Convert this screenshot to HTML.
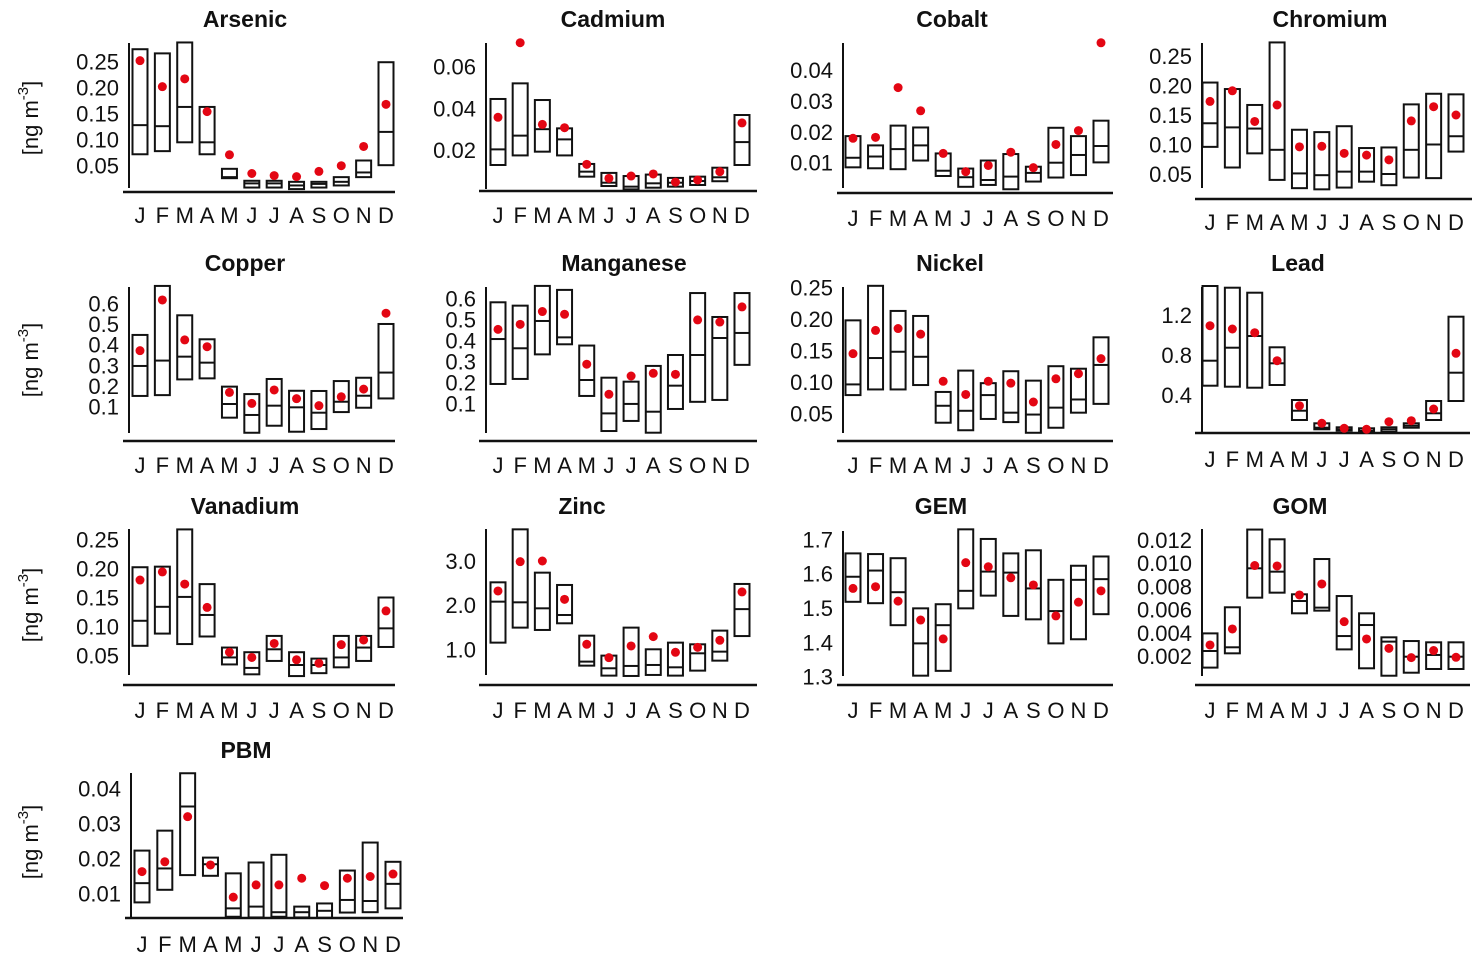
<!DOCTYPE html>
<html><head><meta charset="utf-8"><style>
html,body{margin:0;padding:0;background:#fff;}
svg{display:block;font-family:"Liberation Sans",Arial,sans-serif;}
</style></head><body>
<svg id="chart" width="1472" height="960" viewBox="0 0 1472 960" xmlns="http://www.w3.org/2000/svg">
<g font-size="22" fill="#111">
<text transform="translate(38,118) rotate(-90)" text-anchor="middle">[ng m<tspan dy="-10" font-size="15">-3</tspan><tspan dy="10">]</tspan></text>
<text transform="translate(38,360) rotate(-90)" text-anchor="middle">[ng m<tspan dy="-10" font-size="15">-3</tspan><tspan dy="10">]</tspan></text>
<text transform="translate(38,605) rotate(-90)" text-anchor="middle">[ng m<tspan dy="-10" font-size="15">-3</tspan><tspan dy="10">]</tspan></text>
<text transform="translate(38,842) rotate(-90)" text-anchor="middle">[ng m<tspan dy="-10" font-size="15">-3</tspan><tspan dy="10">]</tspan></text>
</g>
</svg>
<script>
const months = ["J","F","M","A","M","J","J","A","S","O","N","D"];

const arsenicHi = [0.274,0.266,0.287,0.163,0.044,0.021,0.021,0.019,0.019,0.028,0.060,0.249];
const arsenicMed = [0.128,0.126,0.163,0.095,0.028,0.016,0.016,0.012,0.015,0.019,0.037,0.115];
const arsenicLo = [0.072,0.078,0.095,0.072,0.026,0.008,0.008,0.005,0.008,0.012,0.028,0.051];
const arsenicMean = [0.252,0.202,0.217,0.154,0.071,0.035,0.031,0.029,0.039,0.050,0.087,0.168];
const arsenicTicks = [0.25,0.20,0.15,0.10,0.05];
const arsenicTickLabels = ["0.25","0.20","0.15","0.10","0.05"];

const cadmiumHi = [0.0445,0.052,0.044,0.0304,0.0133,0.0090,0.0075,0.0082,0.0066,0.0072,0.0115,0.0368];
const cadmiumMed = [0.0203,0.0269,0.030,0.0251,0.0096,0.0043,0.0024,0.0040,0.0043,0.0051,0.0069,0.0238];
const cadmiumLo = [0.0128,0.0174,0.0192,0.0174,0.0072,0.0027,0.0011,0.0019,0.0024,0.0032,0.0050,0.0128];
const cadmiumMean = [0.0357,0.0715,0.0323,0.0307,0.0131,0.0064,0.0075,0.0085,0.0046,0.0056,0.0096,0.033];
const cadmiumTicks = [0.06,0.04,0.02];
const cadmiumTickLabels = ["0.06","0.04","0.02"];

const cobaltHi = [0.0186,0.0156,0.0220,0.0214,0.0130,0.0081,0.0107,0.0128,0.0087,0.0213,0.0186,0.0236];
const cobaltMed = [0.0116,0.0120,0.0144,0.0156,0.0074,0.0053,0.0044,0.0055,0.0067,0.0100,0.0125,0.0154];
const cobaltLo = [0.0085,0.0082,0.0079,0.0107,0.0057,0.0022,0.0028,0.0014,0.0039,0.0052,0.0060,0.0101];
const cobaltMean = [0.0179,0.0182,0.0343,0.0268,0.0130,0.0071,0.0091,0.0134,0.0084,0.0159,0.0204,0.0488];
const cobaltTicks = [0.04,0.03,0.02,0.01];
const cobaltTickLabels = ["0.04","0.03","0.02","0.01"];

const chromiumHi = [0.205,0.194,0.167,0.273,0.125,0.121,0.131,0.094,0.095,0.168,0.186,0.185];
const chromiumMed = [0.136,0.129,0.127,0.091,0.051,0.048,0.054,0.054,0.050,0.091,0.100,0.114];
const chromiumLo = [0.096,0.061,0.085,0.040,0.026,0.024,0.027,0.037,0.031,0.044,0.043,0.088];
const chromiumMean = [0.173,0.191,0.139,0.167,0.096,0.097,0.085,0.082,0.074,0.140,0.164,0.150];
const chromiumTicks = [0.25,0.20,0.15,0.10,0.05];
const chromiumTickLabels = ["0.25","0.20","0.15","0.10","0.05"];

const copperHi = [0.447,0.684,0.542,0.426,0.197,0.161,0.234,0.177,0.176,0.224,0.240,0.500];
const copperMed = [0.297,0.323,0.342,0.313,0.113,0.060,0.105,0.097,0.071,0.124,0.153,0.265];
const copperLo = [0.152,0.156,0.232,0.237,0.047,-0.026,0.008,-0.021,-0.008,0.074,0.095,0.140];
const copperMean = [0.371,0.616,0.423,0.390,0.169,0.116,0.181,0.139,0.105,0.148,0.185,0.552];
const copperTicks = [0.6,0.5,0.4,0.3,0.2,0.1];
const copperTickLabels = ["0.6","0.5","0.4","0.3","0.2","0.1"];

const manganeseHi = [0.581,0.565,0.659,0.640,0.375,0.222,0.203,0.278,0.330,0.625,0.511,0.625];
const manganeseMed = [0.406,0.362,0.492,0.414,0.211,0.052,0.097,0.060,0.184,0.330,0.411,0.435];
const manganeseLo = [0.192,0.216,0.333,0.381,0.135,-0.032,0.016,-0.040,0.073,0.107,0.116,0.283];
const manganeseMean = [0.452,0.476,0.537,0.524,0.286,0.143,0.230,0.243,0.238,0.497,0.487,0.559];
const manganeseTicks = [0.6,0.5,0.4,0.3,0.2,0.1];
const manganeseTickLabels = ["0.6","0.5","0.4","0.3","0.2","0.1"];

const nickelHi = [0.198,0.253,0.213,0.205,0.084,0.118,0.098,0.117,0.102,0.125,0.121,0.171];
const nickelMed = [0.096,0.138,0.148,0.140,0.062,0.054,0.079,0.051,0.048,0.059,0.072,0.127];
const nickelLo = [0.079,0.088,0.088,0.095,0.035,0.023,0.041,0.036,0.019,0.027,0.051,0.065];
const nickelMean = [0.145,0.182,0.185,0.176,0.101,0.080,0.101,0.098,0.068,0.105,0.113,0.137];
const nickelTicks = [0.25,0.20,0.15,0.10,0.05];
const nickelTickLabels = ["0.25","0.20","0.15","0.10","0.05"];

const leadHi = [1.49,1.473,1.423,0.877,0.35,0.117,0.077,0.067,0.077,0.117,0.34,1.183];
const leadMed = [0.743,0.873,0.99,0.717,0.243,0.073,0.057,0.043,0.057,0.093,0.217,0.623];
const leadLo = [0.493,0.483,0.473,0.5,0.15,0.057,0.043,0.027,0.033,0.073,0.15,0.34];
const leadMean = [1.093,1.06,1.023,0.743,0.293,0.117,0.067,0.057,0.133,0.143,0.26,0.817];
const leadTicks = [1.2,0.8,0.4];
const leadTickLabels = ["1.2","0.8","0.4"];

const vanadiumHi = [0.202,0.203,0.267,0.173,0.064,0.056,0.084,0.056,0.045,0.084,0.084,0.150];
const vanadiumMed = [0.110,0.134,0.151,0.120,0.047,0.029,0.061,0.034,0.034,0.047,0.064,0.097];
const vanadiumLo = [0.067,0.088,0.070,0.083,0.035,0.018,0.041,0.015,0.020,0.030,0.041,0.065];
const vanadiumMean = [0.180,0.194,0.173,0.133,0.056,0.047,0.071,0.043,0.037,0.069,0.077,0.127];
const vanadiumTicks = [0.25,0.20,0.15,0.10,0.05];
const vanadiumTickLabels = ["0.25","0.20","0.15","0.10","0.05"];

const zincHi = [2.517,3.717,2.736,2.457,1.309,0.857,1.491,1.0,1.151,1.113,1.423,2.48];
const zincMed = [2.079,2.064,1.928,1.777,0.721,0.570,0.623,0.645,0.592,0.909,0.947,1.91];
const zincLo = [1.151,1.491,1.438,1.589,0.630,0.404,0.396,0.419,0.404,0.517,0.743,1.30];
const zincMean = [2.321,2.985,3.0,2.132,1.113,0.811,1.075,1.287,0.932,1.045,1.204,2.30];
const zincTicks = [3.0,2.0,1.0];
const zincTickLabels = ["3.0","2.0","1.0"];

const gemHi = [1.659,1.657,1.645,1.499,1.511,1.729,1.701,1.659,1.668,1.582,1.623,1.650];
const gemMed = [1.591,1.609,1.546,1.397,1.450,1.550,1.606,1.603,1.557,1.491,1.582,1.584];
const gemLo = [1.518,1.514,1.450,1.303,1.317,1.499,1.536,1.477,1.467,1.397,1.409,1.482];
const gemMean = [1.557,1.562,1.520,1.465,1.410,1.632,1.620,1.588,1.567,1.477,1.517,1.550];
const gemTicks = [1.7,1.6,1.5,1.4,1.3];
const gemTickLabels = ["1.7","1.6","1.5","1.4","1.3"];

const gomHi = [0.00395,0.0062,0.0129,0.01206,0.00732,0.01036,0.00717,0.00568,0.00361,0.00329,0.00318,0.00318];
const gomMed = [0.00243,0.00275,0.00956,0.00927,0.00674,0.00617,0.00372,0.00467,0.00324,0.00194,0.00209,0.00194];
const gomLo = [0.0010,0.00223,0.00703,0.00746,0.00568,0.00591,0.00257,0.00094,0.0003,0.00056,0.00088,0.00088];
const gomMean = [0.00295,0.00433,0.00980,0.00976,0.00726,0.00821,0.00496,0.00347,0.00266,0.00186,0.00247,0.00189];
const gomTicks = [0.012,0.010,0.008,0.006,0.004,0.002];
const gomTickLabels = ["0.012","0.010","0.008","0.006","0.004","0.002"];

const pbmHi = [0.0222,0.0279,0.0443,0.0202,0.0157,0.0188,0.0210,0.0062,0.0071,0.0165,0.0245,0.0190];
const pbmMed = [0.0129,0.0171,0.0348,0.0183,0.0057,0.0062,0.0046,0.0046,0.0050,0.0081,0.0078,0.0127];
const pbmLo = [0.0074,0.0110,0.0152,0.0150,0.0033,0.0031,0.0033,0.0031,0.0030,0.0045,0.0046,0.0057];
const pbmMean = [0.0162,0.0190,0.0319,0.0181,0.0089,0.0124,0.0124,0.0143,0.0122,0.0143,0.0148,0.0155];
const pbmTicks = [0.04,0.03,0.02,0.01];
const pbmTickLabels = ["0.04","0.03","0.02","0.01"];

// layout (pixel geometry, not data)
const panels = [
 {key:"arsenic",title:"Arsenic",hi:arsenicHi,med:arsenicMed,lo:arsenicLo,mean:arsenicMean,ticks:arsenicTicks,tl:arsenicTickLabels,
  ax:129,top:43,bot:188,baseY:192,bx0:123,bx1:395,jx:140,dx:386,v1:0.25,y1:61.7,v2:0.05,y2:165.7,tx:245,ty:19,my:215},
 {key:"cadmium",title:"Cadmium",hi:cadmiumHi,med:cadmiumMed,lo:cadmiumLo,mean:cadmiumMean,ticks:cadmiumTicks,tl:cadmiumTickLabels,
  ax:486,top:43,bot:189,baseY:191,bx0:479,bx1:757,jx:498,dx:742,v1:0.06,y1:66.7,v2:0.02,y2:150,tx:613,ty:19,my:215},
 {key:"cobalt",title:"Cobalt",hi:cobaltHi,med:cobaltMed,lo:cobaltLo,mean:cobaltMean,ticks:cobaltTicks,tl:cobaltTickLabels,
  ax:843,top:43,bot:188,baseY:193,bx0:837,bx1:1113,jx:853,dx:1101,v1:0.04,y1:70,v2:0.01,y2:162.7,tx:952,ty:19,my:218},
 {key:"chromium",title:"Chromium",hi:chromiumHi,med:chromiumMed,lo:chromiumLo,mean:chromiumMean,ticks:chromiumTicks,tl:chromiumTickLabels,
  ax:1202,top:43,bot:188,baseY:199,bx0:1195,bx1:1473,jx:1210,dx:1456,v1:0.25,y1:56,v2:0.05,y2:174,tx:1330,ty:19,my:222},
 {key:"copper",title:"Copper",hi:copperHi,med:copperMed,lo:copperLo,mean:copperMean,ticks:copperTicks,tl:copperTickLabels,
  ax:129,top:287,bot:433,baseY:441,bx0:123,bx1:395,jx:140,dx:386,v1:0.6,y1:303.3,v2:0.1,y2:406.7,tx:245,ty:263,my:465},
 {key:"manganese",title:"Manganese",hi:manganeseHi,med:manganeseMed,lo:manganeseLo,mean:manganeseMean,ticks:manganeseTicks,tl:manganeseTickLabels,
  ax:486,top:287,bot:433,baseY:441,bx0:479,bx1:757,jx:498,dx:742,v1:0.6,y1:298.3,v2:0.1,y2:403.3,tx:624,ty:263,my:465},
 {key:"nickel",title:"Nickel",hi:nickelHi,med:nickelMed,lo:nickelLo,mean:nickelMean,ticks:nickelTicks,tl:nickelTickLabels,
  ax:843,top:287,bot:433,baseY:441,bx0:837,bx1:1113,jx:853,dx:1101,v1:0.25,y1:287.7,v2:0.05,y2:413.3,tx:950,ty:263,my:465},
 {key:"lead",title:"Lead",hi:leadHi,med:leadMed,lo:leadLo,mean:leadMean,ticks:leadTicks,tl:leadTickLabels,
  ax:1202,top:287,bot:433,baseY:433,bx0:1195,bx1:1470,jx:1210,dx:1456,v1:1.2,y1:315,v2:0.4,y2:395,tx:1298,ty:263,my:459},
 {key:"vanadium",title:"Vanadium",hi:vanadiumHi,med:vanadiumMed,lo:vanadiumLo,mean:vanadiumMean,ticks:vanadiumTicks,tl:vanadiumTickLabels,
  ax:129,top:529,bot:675,baseY:685,bx0:123,bx1:395,jx:140,dx:386,v1:0.25,y1:539.3,v2:0.05,y2:655.7,tx:245,ty:506,my:710},
 {key:"zinc",title:"Zinc",hi:zincHi,med:zincMed,lo:zincLo,mean:zincMean,ticks:zincTicks,tl:zincTickLabels,
  ax:486,top:529,bot:675,baseY:685,bx0:479,bx1:757,jx:498,dx:742,v1:3.0,y1:561,v2:1.0,y2:649.3,tx:582,ty:506,my:710},
 {key:"gem",title:"GEM",hi:gemHi,med:gemMed,lo:gemLo,mean:gemMean,ticks:gemTicks,tl:gemTickLabels,
  ax:843,top:531,bot:676,baseY:685,bx0:837,bx1:1113,jx:853,dx:1101,v1:1.7,y1:539.3,v2:1.3,y2:676.7,tx:941,ty:506,my:710},
 {key:"gom",title:"GOM",hi:gomHi,med:gomMed,lo:gomLo,mean:gomMean,ticks:gomTicks,tl:gomTickLabels,
  ax:1202,top:529,bot:676,baseY:685,bx0:1195,bx1:1470,jx:1210,dx:1456,v1:0.012,y1:540,v2:0.002,y2:656,tx:1300,ty:506,my:710},
 {key:"pbm",title:"PBM",hi:pbmHi,med:pbmMed,lo:pbmLo,mean:pbmMean,ticks:pbmTicks,tl:pbmTickLabels,
  ax:131,top:773,bot:918,baseY:918,bx0:125,bx1:403,jx:142,dx:393,v1:0.04,y1:788.3,v2:0.01,y2:893.3,tx:246,ty:750,my:944}
];

const NS = "http://www.w3.org/2000/svg";
const svg = document.getElementById("chart");
function mk(tag, attrs, parent){
  const e = document.createElementNS(NS, tag);
  for (const k in attrs) e.setAttribute(k, attrs[k]);
  parent.appendChild(e);
  return e;
}
panels.forEach(p => {
  const yScale = v => p.y1 + (v - p.v1) * (p.y2 - p.y1) / (p.v2 - p.v1);
  const xScale = i => p.jx + i * (p.dx - p.jx) / 11;
  const g = mk("g", {}, svg);
  
  

  const t = mk("text", {x:p.tx, y:p.ty+8, "text-anchor":"middle", "font-size":"23", "font-weight":"bold", fill:"#111"}, g);
  
  
  t.textContent = p.title;

  const ya = mk("line", {x1:p.ax, x2:p.ax, y1:p.top, y2:p.bot, stroke:"#111", "stroke-width":"2"}, g);
  
  

  const xa = mk("line", {x1:p.bx0, x2:p.bx1, y1:p.baseY, y2:p.baseY, stroke:"#111", "stroke-width":"2.5"}, g);
  
  

  p.ticks.forEach((v, i) => {
    const tt = mk("text", {x:p.ax - 10, y:yScale(v) + 8, "text-anchor":"end", "font-size":"22", fill:"#111"}, g);
    
    
    tt.textContent = p.tl[i];
  });

  months.forEach((m, i) => {
    const mt = mk("text", {x:xScale(i), y:p.my + 8, "text-anchor":"middle", "font-size":"22", fill:"#111"}, g);
    
    
    mt.textContent = m;
  });

  const w = 15;
  p.hi.forEach((hv, i) => {
    const cx = xScale(i);
    const yt = yScale(hv), yb = yScale(p.lo[i]), ym = yScale(p.med[i]);
    const r = mk("rect", {x:cx - w/2, y:yt, width:w, height:Math.max(yb - yt, 1), fill:"none", stroke:"#111", "stroke-width":"2"}, g);
    
    
    const ml = mk("line", {x1:cx - w/2, x2:cx + w/2, y1:ym, y2:ym, stroke:"#111", "stroke-width":"2"}, g);
    
    
  });
  p.mean.forEach((mv, i) => {
    const c = mk("circle", {cx:xScale(i), cy:yScale(mv), r:4.5, fill:"#e30613"}, g);
    
    
  });
});
</script>
</body></html>
